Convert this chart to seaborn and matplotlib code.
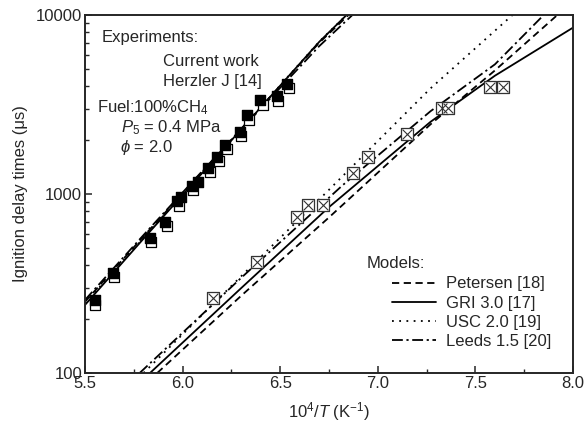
import numpy as np
import pandas as pd
import matplotlib
matplotlib.use('Agg')
import matplotlib.pyplot as plt
import seaborn as sns

# experiments, left group (filled and open squares)
filled_x = [5.551, 5.643, 5.833, 5.910, 5.971, 5.992, 6.048, 6.079, 6.130, 6.176,
            6.217, 6.294, 6.330, 6.397, 6.484, 6.535]
filled_tau = [256, 362, 568, 698, 914, 962, 1110, 1167, 1396, 1610,
              1879, 2219, 2762, 3350, 3527, 4121]
open_x = [5.553, 5.650, 5.840, 5.920, 5.980, 6.055, 6.140, 6.185, 6.225, 6.300,
          6.340, 6.410, 6.490, 6.545]
open_tau = [240, 345, 540, 660, 860, 1050, 1320, 1520, 1780, 2100,
            2600, 3150, 3300, 3900]

# experiments, right group (crossed squares)
cross_x = [6.156, 6.381, 6.586, 6.642, 6.719, 6.873, 6.950, 7.150, 7.329, 7.360,
           7.575, 7.641]
cross_tau = [262, 417, 745, 869, 869, 1309, 1610, 2163, 3020, 3020, 3963, 3963]

# model curves (knots)
models = ['Petersen [18]', 'GRI 3.0 [17]', 'USC 2.0 [19]', 'Leeds 1.5 [20]']
left_x = {
    'Petersen [18]': [5.5, 5.8, 6.1, 6.4, 6.7, 6.85],
    'GRI 3.0 [17]': [5.5, 5.8, 6.1, 6.4, 6.7, 6.84],
    'USC 2.0 [19]': [5.5, 5.8, 6.1, 6.4, 6.7, 6.84],
    'Leeds 1.5 [20]': [5.5, 5.8, 6.1, 6.4, 6.7, 6.87],
}
left_tau = {
    'Petersen [18]': [250, 580, 1330, 3050, 7000, 10000],
    'GRI 3.0 [17]': [240, 563, 1308, 3042, 7080, 10000],
    'USC 2.0 [19]': [245, 570, 1315, 3050, 7100, 10000],
    'Leeds 1.5 [20]': [256, 590, 1340, 3000, 6700, 10000],
}
right_x = {
    'Petersen [18]': [5.87, 6.3, 6.75, 7.27, 7.6, 7.92],
    'GRI 3.0 [17]': [5.833, 6.3, 6.75, 7.27, 7.6, 8.0],
    'USC 2.0 [19]': [5.80, 6.3, 6.74, 7.27, 7.69],
    'Leeds 1.5 [20]': [5.78, 6.3, 6.82, 7.27, 7.6, 7.85],
}
right_tau = {
    'Petersen [18]': [100, 270, 740, 2450, 4900, 10000],
    'GRI 3.0 [17]': [100, 298, 845, 2530, 4580, 8500],
    'USC 2.0 [19]': [100, 347, 1030, 3890, 10000],
    'Leeds 1.5 [20]': [100, 340, 1120, 2900, 5300, 10000],
}

rows = []
for m in models:
    for x, t in zip(left_x[m], left_tau[m]):
        rows.append({'x': x, 'tau': t, 'model': m, 'grp': 'left'})
    for x, t in zip(right_x[m], right_tau[m]):
        rows.append({'x': x, 'tau': t, 'model': m, 'grp': 'right'})
lines_df = pd.DataFrame(rows)

sns.set_style('ticks')
plt.rcParams['font.family'] = ['Liberation Sans', 'DejaVu Sans']
plt.rcParams['mathtext.fontset'] = 'custom'
plt.rcParams['mathtext.rm'] = 'Liberation Sans'
plt.rcParams['mathtext.it'] = 'Liberation Sans:italic'
plt.rcParams['axes.linewidth'] = 1.4

fig = plt.figure(figsize=(5.86, 4.32), dpi=100)
ax = fig.add_axes([85 / 586, 1 - 373 / 432, 488 / 586, 358 / 432])

dashes = {
    'Petersen [18]': (4, 2.5),
    'GRI 3.0 [17]': '',
    'USC 2.0 [19]': (1, 3),
    'Leeds 1.5 [20]': (6, 2, 1.2, 2),
}
sns.lineplot(data=lines_df, x='x', y='tau', style='model', units='grp',
             estimator=None, dashes=dashes, style_order=models,
             color='black', linewidth=1.3, sort=False, ax=ax)

# open squares under filled squares
ax.scatter(open_x, open_tau, marker='s', s=55, facecolor='white',
           edgecolor='black', linewidth=0.9, zorder=3)
ax.scatter(filled_x, filled_tau, marker='s', s=58, color='black', zorder=4)
ax.scatter(cross_x, cross_tau, marker='s', s=85, facecolor='white',
           edgecolor='#333333', linewidth=0.9, zorder=3)
ax.scatter(cross_x, cross_tau, marker='x', s=50, color='#333333',
           linewidth=0.8, zorder=4)

ax.set_yscale('log')
ax.set_xlim(5.5, 8.0)
ax.set_ylim(100, 10000)
ax.set_xticks([5.5, 6.0, 6.5, 7.0, 7.5, 8.0])
ax.set_xticklabels(['5.5', '6.0', '6.5', '7.0', '7.5', '8.0'])
ax.set_xticks(np.arange(5.75, 8.0, 0.5), minor=True)
ax.set_yticks([100, 1000, 10000])
ax.set_yticklabels(['100', '1000', '10000'])
ax.tick_params(which='both', direction='in', labelsize=12, top=False, right=False)
ax.tick_params(which='major', length=5, width=1.1, pad=2)
ax.tick_params(which='minor', length=3, width=1.0)

ax.set_xlabel('10$^4$/$T$ (K$^{-1}$)', fontsize=12, labelpad=7)
ax.set_ylabel('Ignition delay times (μs)', fontsize=12, labelpad=6)

kw = dict(transform=ax.transAxes, fontsize=12, va='center', ha='left')
ax.text(0.035, 0.936, 'Experiments:', **kw)
ax.text(0.160, 0.869, 'Current work', **kw)
ax.text(0.160, 0.813, 'Herzler J [14]', **kw)
ax.text(0.025, 0.740, 'Fuel:100%CH$_4$', **kw)
ax.text(0.074, 0.684, '$P_5$ = 0.4 MPa', **kw)
ax.text(0.072, 0.631, '$\\phi$ = 2.0', **kw)
ax.text(0.578, 0.307, 'Models:', **kw)

ax.legend(loc='upper left', bbox_to_anchor=(0.63, 0.27), frameon=False,
          fontsize=12, handlelength=2.6, handletextpad=0.6,
          labelspacing=0.25, borderpad=0, borderaxespad=0)

fig.savefig('out.png', dpi=100)
